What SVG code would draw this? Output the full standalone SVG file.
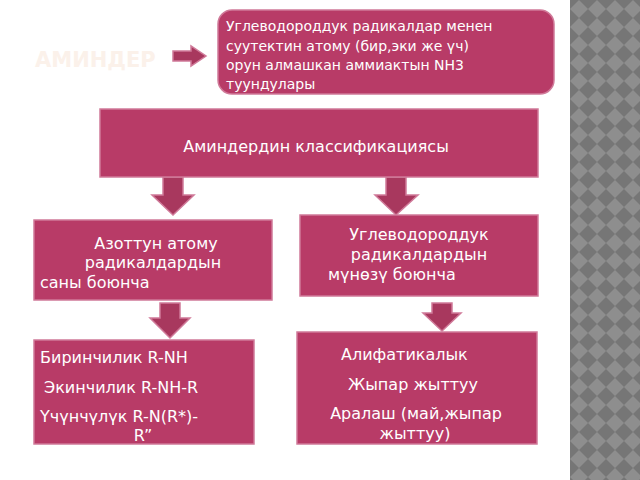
<svg xmlns="http://www.w3.org/2000/svg" width="640" height="480" viewBox="0 0 640 480">
<defs>
<pattern id="chk" width="18" height="18" patternUnits="userSpaceOnUse" x="570" y="0">
<rect width="18" height="18" fill="#767676"/>
<polygon points="9,0 18,9 9,18 0,9" fill="#8e8e8e"/>
</pattern>
</defs>
<style>
.b{fill:#b83b67;stroke:#d07a99;stroke-width:1.5}
.a{fill:#a8385e;stroke:#d07a99;stroke-width:1.5}
text{font-family:"DejaVu Sans",sans-serif;fill:#fff;font-size:16px}
.c{text-anchor:middle}
</style>
<rect width="640" height="480" fill="#fff"/>
<rect x="570" y="0" width="70" height="480" fill="url(#chk)"/>
<text x="35" y="67" style="font-size:21px;font-weight:bold;fill:#fbf1ea">АМИНДЕР</text>
<g id="connectors">
<polygon class="a" points="173,51 191,51 191,46 206,56 191,66 191,61 173,61"/>
<polygon class="a" points="163,177 183,177 183,195 194,195 173,215 152,195 163,195"/>
<polygon class="a" points="386,177 406,177 406,195 418,195 396,215 375,195 386,195"/>
<polygon class="a" points="160,303 180,303 180,318 190,318 170,338 150,318 160,318"/>
<polygon class="a" points="432,303 452,303 452,313 461,313 442,331 423,313 432,313"/>
</g>
<g id="def">
<rect class="b" x="218" y="10" width="336" height="84" rx="14"/>
<text x="226" y="31" style="font-size:14px">Углеводороддук радикалдар менен</text>
<text x="226" y="51" style="font-size:14px">суутектин атому (бир,эки же үч)</text>
<text x="226" y="70" style="font-size:14px">орун алмашкан аммиактын NH3</text>
<text x="226" y="89" style="font-size:14px">туундулары</text>
</g>
<g id="cls">
<rect class="b" x="100" y="109" width="438" height="68"/>
<text class="c" x="316" y="152">Аминдердин классификациясы</text>
</g>
<g id="left">
<rect class="b" x="34" y="220" width="238" height="80"/>
<text class="c" x="156" y="249">Азоттун атому</text>
<text class="c" x="153" y="268">радикалдардын</text>
<text x="40" y="288">саны боюнча</text>
</g>
<g id="right">
<rect class="b" x="300" y="215" width="238" height="81"/>
<text class="c" x="419" y="240">Углеводороддук</text>
<text class="c" x="419" y="260">радикалдардын</text>
<text x="328" y="280">мүнөзү боюнча</text>
</g>
<g id="bl">
<rect class="b" x="34" y="340" width="220" height="104"/>
<text x="40" y="363">Биринчилик R-NH</text>
<text x="44" y="393">Экинчилик R-NH-R</text>
<text x="40" y="422">Үчүнчүлүк R-N(R*)-</text>
<text class="c" x="143" y="441">R”</text>
</g>
<g id="br">
<rect class="b" x="297" y="332" width="240" height="112"/>
<text x="341" y="360">Алифатикалык</text>
<text class="c" x="413" y="390">Жыпар жыттуу</text>
<text class="c" x="416" y="419">Аралаш (май,жыпар</text>
<text class="c" x="415" y="439">жыттуу)</text>
</g>
</svg>
